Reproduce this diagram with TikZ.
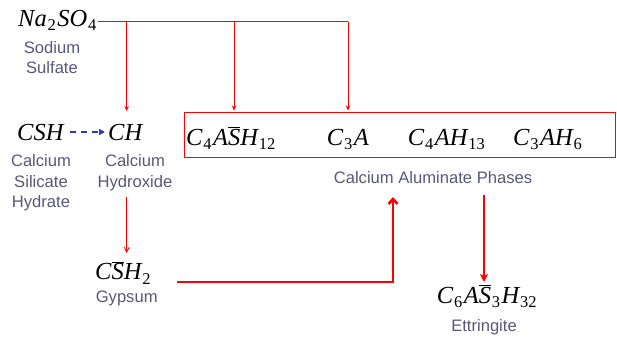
\documentclass[tikz,border=0pt]{standalone}
\usepackage{fontspec}
\setmainfont{Liberation Serif}
\setsansfont{Liberation Sans}
\usetikzlibrary{arrows.meta}
\definecolor{lbl}{RGB}{88,88,120}
\definecolor{myred}{RGB}{255,0,0}
\definecolor{myblue}{RGB}{51,51,204}
\newcommand{\sbs}[1]{\kern0.8pt\raisebox{-4.5pt}{\fontsize{16.5}{16.5}\selectfont\upshape #1}\kern1.5pt}
\newcommand{\ovS}{$\overline{\mbox{\itshape S}}$}
\begin{document}
\begin{tikzpicture}[x=1pt,y=-1pt,
  chem/.style={inner sep=0pt, anchor=base west, font=\fontsize{24.5}{24.5}\selectfont\itshape},
  lab/.style={inner sep=0pt, text=lbl, align=center, font=\sffamily\fontsize{16.6}{20.5}\selectfont},
  thinred/.style={draw=myred, line width=0.8pt},
  smalltip/.style={-{Stealth[length=5pt,width=4.5pt]}},
  thickred/.style={draw=myred, line width=2.6pt},
  ]
\path[use as bounding box] (0,0) rectangle (617,338);

% chemical formulas
\node[chem] (na) at (18,26) {Na\sbs{2}SO\sbs{4}};
\node[chem] (csh) at (17,140.7) {CSH};
\node[chem] (ch) at (108,140.7) {CH};
\node[chem] (gyp) at (95,279.5) {C\ovS H\sbs{2}};
\node[chem] (ett) at (436.7,303) {C\sbs{6}A\ovS\sbs{3}H\sbs{32}};

% box of aluminate phases
\node[draw=myred, line width=0.8pt, minimum width=431pt, minimum height=45pt, inner sep=0pt, anchor=north west] (box) at (184,112) {};
\node[chem] (p1) at (186,145) {C\sbs{4}A\ovS H\sbs{12}};
\node[chem] (p2) at (326.7,145) {C\sbs{3}A};
\node[chem] (p3) at (407.7,145) {C\sbs{4}AH\sbs{13}};
\node[chem] (p4) at (513,145) {C\sbs{3}AH\sbs{6}};

% labels
\node[lab, anchor=north] (lna) at (52,41) {Sodium\\Sulfate};
\node[lab, anchor=north] (lcsh) at (41,154.7) {Calcium\\Silicate\\Hydrate};
\node[lab, anchor=north] (lch) at (135,154.7) {Calcium\\Hydroxide};
\node[lab, anchor=base] (lbox) at (433,183) {Calcium Aluminate Phases};
\node[lab, anchor=base] (lgyp) at (126.7,302.5) {Gypsum};
\node[lab, anchor=base] (lett) at (484,331.7) {Ettringite};

% sodium sulfate distribution
\coordinate (j0) at (98,21.7);
\coordinate (j1) at (126.7,21.7);
\coordinate (j2) at (234,21.7);
\coordinate (j3) at (348,21.7);
\coordinate (e1) at (126.7,111);
\draw[thinred] (j0) -- (j3);
\draw[thinred, smalltip] (j1) -- (e1);
\draw[thinred, smalltip, shorten >=1.5pt] (j2) -- (j2 |- box.north);
\draw[thinred, smalltip, shorten >=1.5pt] (j3) -- (j3 |- box.north);

% CSH -> CH
\coordinate (b0) at (70,132);
\coordinate (b1) at (105,132);
\draw[draw=myblue, line width=1.8pt, dash pattern=on 6pt off 5pt, -{Triangle[length=6pt,width=6pt]}] (b0) -- (b1);

% CH -> gypsum
\coordinate (g0) at (126.7,197);
\coordinate (g1) at (126.7,253);
\draw[thinred, -{Straight Barb[length=5pt,width=5pt]}] (g0) -- (g1);

% gypsum -> aluminate phases
\coordinate (k0) at (177,282);
\coordinate (k1) at (393,282);
\coordinate (k2) at (393,197);
\draw[thickred, line join=miter, -{Straight Barb[length=5pt,width=9pt]}] (k0) -- (k1) -- (k2);

% aluminate phases -> ettringite
\coordinate (m0) at (484,195);
\coordinate (m1) at (484,282);
\draw[draw=myred, line width=2pt, -{Stealth[length=8pt,width=8pt,inset=2pt]}] (m0) -- (m1);
\end{tikzpicture}
\end{document}
